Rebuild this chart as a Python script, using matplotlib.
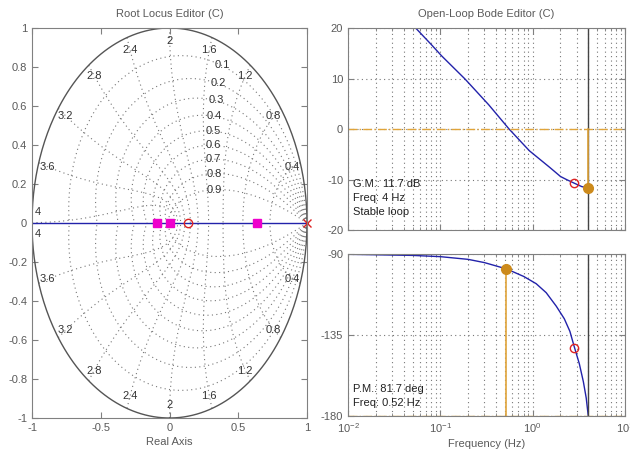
import numpy as np
import matplotlib
matplotlib.use("Agg")
from matplotlib import pyplot as plt

plt.rcParams.update({'font.family': 'Liberation Sans', 'font.size': 8})

# root locus editor (z-plane)
rl_poles = [1.0]
rl_zeros = [0.132]
rl_closed = [-0.093, 0.0, 0.634]
rl_xticks = [-1, -0.5, 0, 0.5, 1]
rl_xticklabels = ['-1', '-0.5', '0', '0.5', '1']
rl_yticks = [-1, -0.8, -0.6, -0.4, -0.2, 0, 0.2, 0.4, 0.6, 0.8, 1]
rl_yticklabels = ['-1', '-0.8', '-0.6', '-0.4', '-0.2', '0', '0.2', '0.4', '0.6', '0.8', '1']
zeta_vals = [0.1, 0.2, 0.3, 0.4, 0.5, 0.6, 0.7, 0.8, 0.9]
wn_labels = ['0.4', '0.8', '1.2', '1.6', '2', '2.4', '2.8', '3.2', '3.6', '4']

# open-loop bode
mag_f = [0.03, 0.054, 0.08, 0.103, 0.12, 0.185, 0.334, 0.555, 0.92, 1.53, 2.0, 2.32, 2.8, 3.4, 4.0]
mag_db = [25.1, 20, 16.7, 14.5, 13.3, 9.9, 4.8, 0, -4.3, -7.6, -9.4, -10.0, -10.7, -11.4, -11.7]
ph_f = [0.01, 0.05, 0.1, 0.2, 0.3, 0.52, 0.8, 1.09, 1.4, 1.8, 2.2, 2.53, 2.8, 3.2, 3.54, 3.8, 4.0]
ph_deg = [-90.2, -90.8, -91.5, -93, -94.8, -98.3, -102.5, -106.5, -111.5, -119, -126, -133,
          -141, -151, -161, -170, -180]
gm_freq, gm_db = 4.0, -11.7
pm_freq, pm_deg = 0.52, -98.3
nyq_freq = 4.0
cl_freq, cl_db, cl_deg = 2.8, -10.7, -142

txt_gray = '#5a5a5a'
edge_gray = '#808080'
orange_line = '#e0a43a'
orange_dot = '#cc8a1c'
blue = '#2222aa'
dot_grid = dict(color='#777777', linestyle=(0, (1, 3)), linewidth=0.8)

fig = plt.figure(figsize=(6.3, 4.63), dpi=100)
ax_rl = fig.add_axes([0.0508, 0.0972, 0.4365, 0.8423])
ax_mag = fig.add_axes([0.5524, 0.5032, 0.4397, 0.4363])
ax_ph = fig.add_axes([0.5524, 0.1015, 0.4397, 0.35])


def style(ax):
    for s in ax.spines.values():
        s.set_color(edge_gray)
    ax.tick_params(which='both', direction='in', top=True, right=True,
                   colors=edge_gray, labelcolor=txt_gray, labelsize=8)
    ax.tick_params(which='major', length=4)
    ax.tick_params(which='minor', length=2)


# ---- root locus ----
# zgrid: damping lines and natural frequency curves
for z in zeta_vals:
    w = np.linspace(0, np.pi / np.sqrt(1 - z ** 2), 200)
    pts = np.exp(w * (-z + 1j * np.sqrt(1 - z ** 2)))
    ax_rl.plot(pts.real, pts.imag, **dot_grid)
    ax_rl.plot(pts.real, -pts.imag, **dot_grid)
    lab = np.exp(1.15 * (-z + 1j * np.sqrt(1 - z ** 2)))
    ax_rl.text(lab.real + 0.015, lab.imag, str(z), ha='center', va='center',
               color='#333333', fontsize=8)
for k, lbl in enumerate(wn_labels, start=1):
    wt = k * np.pi / 10
    zz = np.linspace(0, 1, 200)
    pts = np.exp(wt * (-zz + 1j * np.sqrt(1 - zz ** 2)))
    if k < 10:
        ax_rl.plot(pts.real, pts.imag, **dot_grid)
        ax_rl.plot(pts.real, -pts.imag, **dot_grid)
        p = 0.935 * np.exp(1j * wt)
        ax_rl.text(p.real, p.imag, lbl, ha='center', va='center', color='#333333', fontsize=8)
        ax_rl.text(p.real, -p.imag, lbl, ha='center', va='center', color='#333333', fontsize=8)
    else:
        ax_rl.plot(pts.real, pts.imag + 0.002, **dot_grid)
        ax_rl.text(-0.96, 0.055, lbl, ha='center', va='center', color='#333333', fontsize=8)
        ax_rl.text(-0.96, -0.055, lbl, ha='center', va='center', color='#333333', fontsize=8)

th = np.linspace(0, 2 * np.pi, 400)
ax_rl.plot(np.cos(th), np.sin(th), color='#555555', linewidth=1.0)
ax_rl.plot([-1, 1], [0, 0], color=blue, linewidth=1.0)
ax_rl.plot(rl_closed, [0] * len(rl_closed), 's', color='#ee00cc', markersize=6, linestyle='none')
ax_rl.plot(rl_zeros, [0], 'o', mfc='none', mec='#dd2222', markersize=6, mew=1.0)
ax_rl.plot(rl_poles, [0], 'x', color='#dd2222', markersize=6, mew=1.0, clip_on=False)
ax_rl.set_xlim(-1, 1)
ax_rl.set_ylim(-1, 1)
ax_rl.set_xticks(rl_xticks)
ax_rl.set_xticklabels(rl_xticklabels)
ax_rl.set_yticks(rl_yticks)
ax_rl.set_yticklabels(rl_yticklabels)
style(ax_rl)
ax_rl.set_xlabel('Real Axis', color=txt_gray, fontsize=8, labelpad=3)
ax_rl.set_title('Root Locus Editor (C)', color=txt_gray, fontsize=8, pad=8)

# ---- bode magnitude ----
ax_mag.semilogx(mag_f, mag_db, color=blue, linewidth=1.0)
ax_mag.axhline(0, color=orange_line, linestyle='-.', linewidth=1.0)
ax_mag.axvline(nyq_freq, color='#444444', linewidth=1.0)
ax_mag.plot([gm_freq, gm_freq], [0, gm_db], color=orange_line, linewidth=1.2)
ax_mag.plot([gm_freq], [gm_db], 'o', color=orange_dot, markersize=7)
ax_mag.plot([cl_freq], [cl_db], 'o', mfc='none', mec='#dd2222', markersize=6, mew=1.0)
ax_mag.set_xlim(1e-2, 1e1)
ax_mag.set_ylim(-20, 20)
ax_mag.set_yticks([-20, -10, 0, 10, 20])
ax_mag.set_yticklabels(['-20', '-10', '0', '10', '20'])
ax_mag.xaxis.grid(True, which='both', **dot_grid)
ax_mag.yaxis.grid(True, which='major', **dot_grid)
ax_mag.tick_params(labelbottom=False)
style(ax_mag)
ax_mag.text(0.018, 0.066, 'G.M.: 11.7 dB\nFreq: 4 Hz\nStable loop', transform=ax_mag.transAxes,
            ha='left', va='bottom', fontsize=8, color='#222222', linespacing=1.45)
ax_mag.set_title('Open-Loop Bode Editor (C)', color=txt_gray, fontsize=8, pad=8)

# ---- bode phase ----
ax_ph.semilogx(ph_f, ph_deg, color=blue, linewidth=1.0)
ax_ph.axhline(-180, color=orange_line, linestyle='-.', linewidth=1.0)
ax_ph.axvline(nyq_freq, color='#444444', linewidth=1.0)
ax_ph.plot([pm_freq, pm_freq], [-180, pm_deg], color=orange_line, linewidth=1.2)
ax_ph.plot([pm_freq], [pm_deg], 'o', color=orange_dot, markersize=7)
ax_ph.plot([cl_freq], [cl_deg], 'o', mfc='none', mec='#dd2222', markersize=6, mew=1.0)
ax_ph.set_xlim(1e-2, 1e1)
ax_ph.set_ylim(-180, -90)
ax_ph.set_yticks([-180, -135, -90])
ax_ph.set_yticklabels(['-180', '-135', '-90'])
ax_ph.xaxis.grid(True, which='both', **dot_grid)
ax_ph.yaxis.grid(True, which='major', **dot_grid)
style(ax_ph)
ax_ph.text(0.018, 0.05, 'P.M.: 81.7 deg\nFreq: 0.52 Hz', transform=ax_ph.transAxes,
           ha='left', va='bottom', fontsize=8, color='#222222', linespacing=1.45)
ax_ph.set_xlabel('Frequency (Hz)', color=txt_gray, fontsize=8, labelpad=3)

fig.savefig('out.png', dpi=100)
